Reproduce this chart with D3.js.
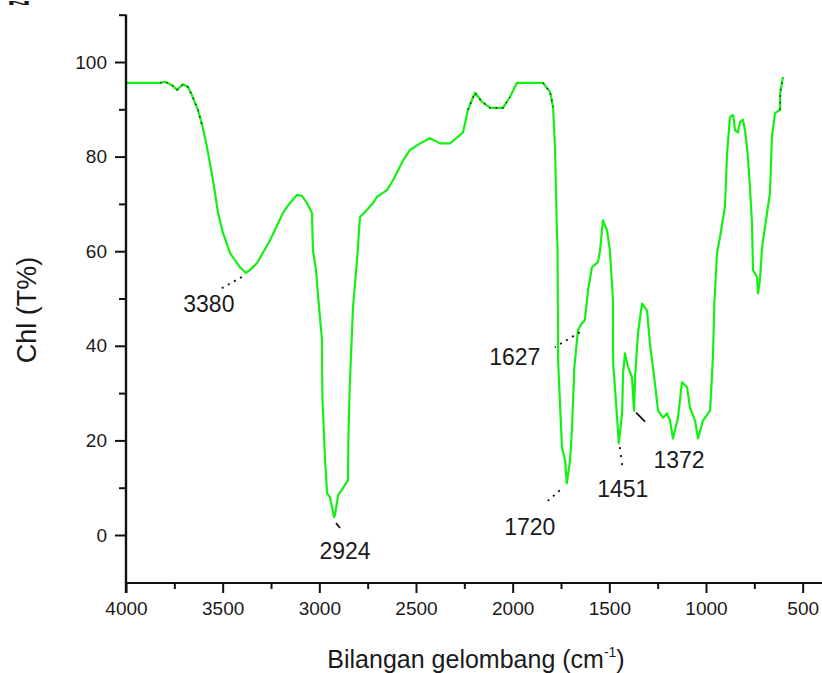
<!DOCTYPE html>
<html>
<head>
<meta charset="utf-8">
<script src="https://cdn.jsdelivr.net/npm/d3@7"></script>
<style>
  html, body { margin: 0; padding: 0; background: #fff; }
  svg { display: block; }
  text { font-family: "Liberation Sans", Arial, Helvetica, sans-serif; fill: #1a1a1a; }
</style>
</head>
<body>
<svg id="chart" width="822" height="673"></svg>
<script>
// FTIR spectrum: wavenumber (cm^-1) and transmittance (%T)
const wavenumber = [
  4000, 3824, 3798, 3762, 3736, 3705, 3679, 3659, 3628, 3602,
  3581, 3550, 3524, 3498, 3462, 3410, 3380, 3359, 3322, 3255,
  3188, 3152, 3116, 3090, 3064, 3038, 3033, 3017, 3007, 2986,
  2985, 2984, 2971, 2960, 2945, 2924, 2919, 2903, 2878, 2852,
  2850, 2842, 2840, 2826, 2805, 2790, 2764, 2722, 2702, 2650,
  2619, 2567, 2531, 2479, 2428, 2376, 2324, 2257, 2231, 2195,
  2159, 2117, 2050, 2014, 1978, 1843, 1807, 1791, 1781, 1771,
  1768, 1765, 1745, 1729, 1720, 1703, 1693, 1681, 1662, 1645,
  1627, 1610, 1590, 1559, 1548, 1533, 1512, 1497, 1481, 1480,
  1460, 1451, 1434, 1429, 1419, 1403, 1383, 1372, 1367, 1352,
  1331, 1305, 1290, 1264, 1248, 1222, 1202, 1186, 1171, 1145,
  1124, 1098, 1083, 1057, 1041, 1016, 979, 964, 957, 943,
  928, 902, 891, 876, 860, 850, 835, 824, 809, 798,
  783, 772, 762, 757, 736, 731, 721, 710, 695, 669,
  659, 643, 617, 616, 602
];
const transmittance = [
  95.6, 95.6, 95.8, 95.1, 94.1, 95.3, 94.7, 93.0, 89.9, 86.0,
  82.0, 75.0, 68.1, 63.8, 59.6, 56.6, 55.4, 56.0, 57.5, 62.3,
  68.1, 70.2, 71.9, 71.7, 70.2, 68.1, 60.2, 56.0, 50.7, 41.2,
  32.7, 28.9, 16.4, 8.8, 8.0, 3.8, 4.2, 8.4, 9.9, 11.6,
  20.0, 32.7, 34.2, 48.1, 58.1, 67.2, 68.3, 70.2, 71.5, 72.9,
  75.0, 79.2, 81.4, 82.8, 83.9, 82.8, 82.8, 85.1, 89.9, 93.5,
  91.6, 90.3, 90.3, 92.6, 95.6, 95.6, 93.7, 90.5, 82.0, 63.8,
  60.6, 36.9, 18.5, 15.8, 10.9, 15.8, 22.7, 35.5, 43.3, 44.6,
  45.4, 51.8, 56.6, 57.7, 60.2, 66.5, 64.4, 60.2, 49.6, 36.3,
  24.8, 19.4, 25.7, 34.2, 38.4, 35.5, 33.4, 26.3, 33.4, 42.6,
  48.9, 47.5, 40.5, 32.0, 26.3, 24.8, 25.7, 24.2, 20.4, 24.8,
  32.3, 31.3, 26.9, 24.2, 20.4, 24.2, 26.3, 37.6, 48.9, 59.6,
  62.9, 69.4, 80.7, 88.4, 88.8, 85.6, 85.1, 87.3, 87.8, 85.6,
  79.9, 72.9, 65.9, 56.0, 54.5, 51.1, 53.9, 60.8, 65.1, 72.3,
  84.2, 89.2, 89.9, 93.5, 96.8
];

// Annotated band positions (cm^-1)
const bandLabels = [3380, 2924, 1720, 1627, 1451, 1372];

// wavenumber windows where the underlying dark trace shows through
const darkTraceWindows = [[3830, 3600], [2240, 1985], [1850, 1785], [625, 600]];

const xMajorTicks = [4000, 3500, 3000, 2500, 2000, 1500, 1000, 500];
const xMinorTicks = [3750, 3250, 2750, 2250, 1750, 1250, 750];
const yMajorTicks = [0, 20, 40, 60, 80, 100];
const yMinorTicks = [10, 30, 50, 70, 90, 110];

const svg = d3.select("#chart");

const x = d3.scaleLinear().domain([4000, 400]).range([126, 822]);
const y = d3.scaleLinear().domain([-10, 110]).range([582.3, 14.7]);
const y0 = 583;   // x-axis baseline

const line = d3.line().x(d => x(d[0])).y(d => y(d[1]));

// spectrum trace
const pts = wavenumber.map((w, i) => [w, transmittance[i]]);
svg.append("path")
  .datum(pts)
  .attr("fill", "none")
  .attr("stroke", "#14f014")
  .attr("stroke-width", 2.2)
  .attr("stroke-linejoin", "round")
  .attr("d", line);

// dark dotted trace peeking through at the flat high-transmittance stretches
darkTraceWindows.forEach(([hi, lo]) => {
  svg.append("path")
    .datum(pts.filter(p => p[0] <= hi && p[0] >= lo))
    .attr("fill", "none")
    .attr("stroke", "#2a2a2a")
    .attr("stroke-width", 1.6)
    .attr("stroke-dasharray", "1.5,5")
    .attr("d", line);
});

// y axis
const yAxisG = svg.append("g").attr("transform", "translate(126,0)");
yAxisG.call(d3.axisLeft(y).tickValues(yMajorTicks).tickSize(11).tickPadding(8).tickFormat(d3.format("d")));
yAxisG.append("g").call(d3.axisLeft(y).tickValues(yMinorTicks).tickSize(7).tickFormat(""));
yAxisG.selectAll(".domain").attr("d", `M0,${y0 + 10}V${y(110)}`);

// x axis
const xAxisG = svg.append("g").attr("transform", `translate(0,${y0})`);
xAxisG.call(d3.axisBottom(x).tickValues(xMajorTicks).tickSize(10).tickPadding(9).tickFormat(d3.format("d")));
xAxisG.append("g").call(d3.axisBottom(x).tickValues(xMinorTicks).tickSize(6).tickFormat(""));
xAxisG.selectAll(".domain").attr("d", `M126,0H822`);

svg.selectAll(".domain").attr("stroke", "#111").attr("stroke-width", 2.2);
svg.selectAll(".tick line").attr("stroke", "#111").attr("stroke-width", 2);
svg.selectAll(".tick text")
  .attr("font-size", 19)
  .attr("font-family", "'Liberation Sans', Arial, sans-serif")
  .attr("fill", "#222");

// axis titles
svg.append("text")
  .attr("transform", "translate(36,310) rotate(-90)")
  .attr("text-anchor", "middle")
  .attr("font-size", 27)
  .text("Chl (T%)");

const xt = svg.append("text")
  .attr("x", 476).attr("y", 668)
  .attr("text-anchor", "middle")
  .attr("font-size", 25);
xt.append("tspan").text("Bilangan gelombang (cm");
xt.append("tspan").attr("font-size", 14).attr("dy", -11).text("-1");
xt.append("tspan").attr("dy", 11).text(")");

// panel letter in the top-left corner (squat, stretched sliver)
svg.append("text")
  .attr("x", 7).attr("y", 5)
  .attr("font-size", 6)
  .attr("textLength", 24)
  .attr("lengthAdjust", "spacingAndGlyphs")
  .attr("font-weight", "bold")
  .text("N");

// band annotations: label offset from the band point, leader start/end offsets, dash style
const annoLayout = {
  3380: { tx: -37, ty: 39, l: [-4, 4, -27, 17], dash: "2,5" },
  2924: { tx: 11, ty: 42, l: [2, 6, 6, 11], dash: null },
  1720: { tx: -37, ty: 52, l: [-7, 7, -22, 20], dash: "2,5" },
  1627: { tx: -70, ty: 45, l: [-5, 12, -30, 27], dash: "2,5" },
  1451: { tx: 4, ty: 54, l: [1, 4, 4, 27], dash: "2,6" },
  1372: { tx: 45, ty: 57, l: [2, 2, 11, 11], dash: null }
};
const valueAt = w => {
  const i = wavenumber.indexOf(w);
  if (i >= 0) return transmittance[i];
  return transmittance[d3.leastIndex(wavenumber, v => Math.abs(v - w))];
};
bandLabels.forEach(w => {
  const L = annoLayout[w];
  const px = x(w), py = y(valueAt(w));
  svg.append("line")
    .attr("x1", px + L.l[0]).attr("y1", py + L.l[1])
    .attr("x2", px + L.l[2]).attr("y2", py + L.l[3])
    .attr("stroke", "#111").attr("stroke-width", 1.8)
    .attr("stroke-dasharray", L.dash);
  svg.append("text")
    .attr("x", px + L.tx).attr("y", py + L.ty)
    .attr("text-anchor", "middle")
    .attr("font-size", 23)
    .text(w);
});
</script>
</body>
</html>
